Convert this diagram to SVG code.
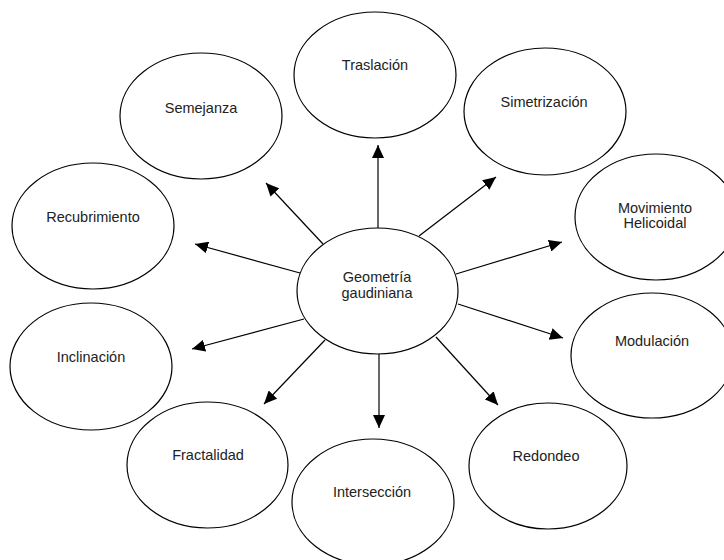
<svg xmlns="http://www.w3.org/2000/svg" width="724" height="560" viewBox="0 0 724 560">
<style>
.n ellipse{fill:#fff;stroke:#000;stroke-width:1.2}
.n text{font-family:"Liberation Sans",Arial,sans-serif;font-size:14.5px;fill:#222;text-anchor:middle}
#connectors line{stroke:#000;stroke-width:1.2;marker-end:url(#ah)}
</style>
<defs>
<marker id="ah" markerUnits="userSpaceOnUse" markerWidth="13" markerHeight="12" refX="13" refY="6" orient="auto">
<path d="M0,0 L13,6 L0,12 z" fill="#000"/>
</marker>
</defs>
<rect width="724" height="560" fill="#fff"/>
<g id="connectors">
<line x1="378" y1="228" x2="378" y2="145"/>
<line x1="323" y1="244" x2="266" y2="183"/>
<line x1="419" y1="236" x2="496" y2="177"/>
<line x1="300" y1="273" x2="195" y2="244"/>
<line x1="456" y1="274" x2="562" y2="242"/>
<line x1="304" y1="319" x2="192" y2="349"/>
<line x1="458" y1="304" x2="563" y2="338"/>
<line x1="325" y1="340" x2="264" y2="404"/>
<line x1="379" y1="354" x2="379" y2="428"/>
<line x1="436" y1="337" x2="498" y2="405"/>
</g>
<g id="geometria" class="n"><ellipse cx="377.5" cy="291" rx="80.5" ry="63"/><text x="377" y="282">Geometría</text><text x="377" y="298">gaudiniana</text></g>
<g id="traslacion" class="n"><ellipse cx="375" cy="75" rx="81" ry="63"/><text x="375" y="70">Traslación</text></g>
<g id="semejanza" class="n"><ellipse cx="201" cy="116" rx="81" ry="63"/><text x="201" y="113">Semejanza</text></g>
<g id="simetrizacion" class="n"><ellipse cx="545" cy="111.5" rx="81" ry="63.5"/><text x="544" y="107">Simetrización</text></g>
<g id="recubrimiento" class="n"><ellipse cx="93" cy="226" rx="81" ry="63"/><text x="93" y="222">Recubrimiento</text></g>
<g id="movimiento" class="n"><ellipse cx="656" cy="217" rx="81" ry="63"/><text x="655" y="213">Movimiento</text><text x="655" y="228">Helicoidal</text></g>
<g id="inclinacion" class="n"><ellipse cx="91" cy="366.5" rx="81" ry="63.5"/><text x="91" y="362">Inclinación</text></g>
<g id="modulacion" class="n"><ellipse cx="652" cy="355.5" rx="81" ry="62.5"/><text x="652" y="346">Modulación</text></g>
<g id="fractalidad" class="n"><ellipse cx="207.5" cy="465" rx="80.5" ry="63"/><text x="208" y="460">Fractalidad</text></g>
<g id="interseccion" class="n"><ellipse cx="373" cy="502" rx="81" ry="63"/><text x="372" y="497">Intersección</text></g>
<g id="redondeo" class="n"><ellipse cx="548" cy="466" rx="79" ry="63"/><text x="546" y="461">Redondeo</text></g>
</svg>
